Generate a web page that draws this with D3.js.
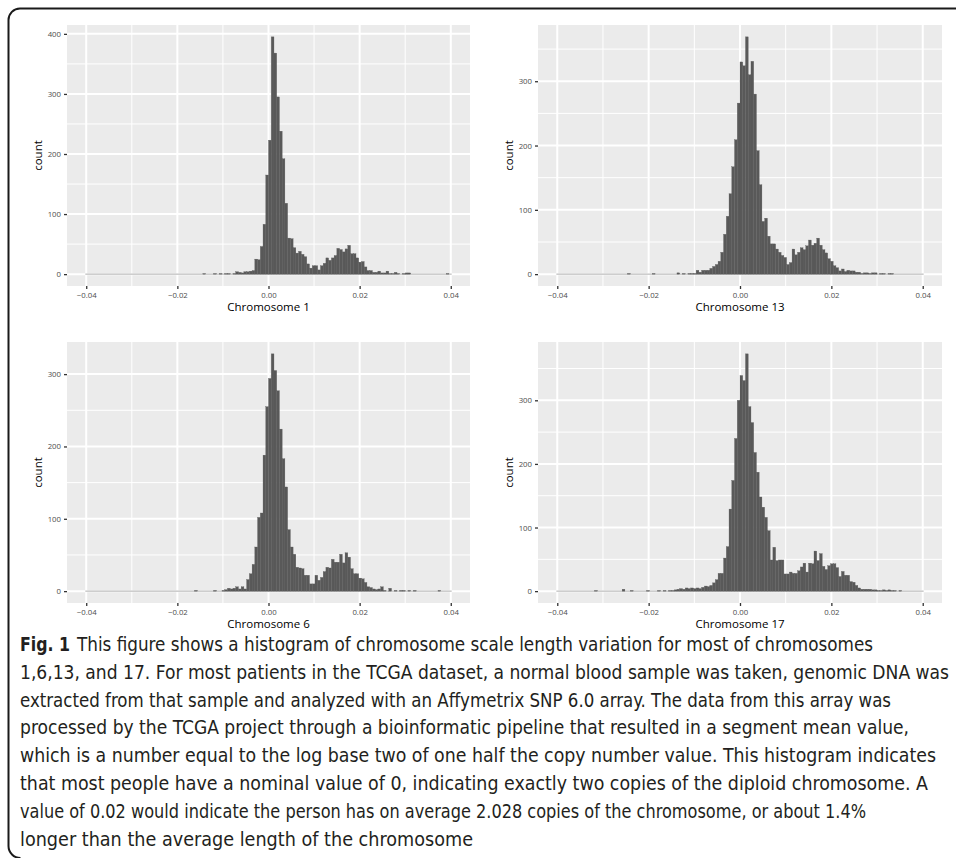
<!DOCTYPE html>
<html>
<head>
<meta charset="utf-8">
<script src="https://cdn.jsdelivr.net/npm/d3@7"></script>
<style>
  body { margin: 0; background: #fff; }
  svg { display: block; }
  .axis text { font-family: "Open Sans", sans-serif; font-size: 7.8px; fill: #4d4d4d; }
  .axis line { stroke: #333; }
  .axis-title { font-family: "Open Sans", sans-serif; font-size: 11.5px; fill: #000; }
  .caption { font-family: "Liberation Sans Narrow", "DejaVu Sans Condensed", "Open Sans", sans-serif; font-size: 19px; fill: #231f20; }
</style>
</head>
<body>
<svg id="fig" width="956" height="858"></svg>
<script>
// histogram bins: edges at binStart + i * binWidth
const binStart = -0.0402;
const binWidth = 0.0006;

const chr1 = [
  0,0,0,0,0,0,0,0,0,0,
  0,0,0,0,0,0,0,0,0,0,
  0,0,0,0,0,0,0,0,0,0,
  0,0,0,0,0,0,0,0,0,0,
  0,0,0,1,0,0,0,1,0,1,
  0,1,1,0,1,4,3,2,4,4,
  5,6,25,24,46,83,165,223,395,368,
  295,238,192,118,60,59,44,35,38,33,
  29,17,10,14,14,7,14,18,27,23,
  27,31,43,41,37,42,48,34,34,27,
  20,21,12,6,6,3,3,5,2,2,
  5,1,1,3,1,0,1,2,2,0,
  0,0,0,0,0,0,0,0,0,0,
  0,0,1,0
];

const chr13 = [
  0,0,0,0,0,0,0,0,0,0,
  0,0,0,0,0,0,0,0,0,0,
  0,0,0,0,0,0,1,0,0,0,
  0,0,0,0,0,1,0,0,0,0,
  0,0,0,0,2,0,1,0,1,1,
  1,6,3,6,6,6,9,12,15,20,
  34,62,90,125,167,209,266,330,324,369,
  310,331,280,192,139,82,87,59,47,47,
  39,34,29,26,15,18,39,30,34,41,
  38,44,53,45,48,56,45,38,33,24,
  20,13,10,5,8,4,6,5,5,3,
  3,1,2,2,1,2,2,0,1,1,
  0,1,1,0,0,0,0,0,0,0,
  0,0,0,0
];

const chr6 = [
  0,0,0,0,0,0,0,0,0,0,
  0,0,0,0,0,0,0,0,0,0,
  0,0,0,0,0,0,0,0,0,0,
  0,0,0,0,0,0,0,0,0,0,
  1,0,0,0,0,0,0,1,0,0,
  1,2,4,3,4,6,3,6,3,16,
  24,37,61,102,108,188,255,294,328,305,
  277,224,183,144,85,61,51,33,32,31,
  22,22,10,10,22,15,19,27,33,32,
  44,40,40,51,39,53,47,31,24,24,
  18,17,12,6,5,3,2,3,6,1,
  0,4,0,1,0,1,1,0,1,0,
  1,0,0,0,0,0,0,0,0,1,
  0,0,0,0
];

const chr17 = [
  0,0,0,0,0,0,0,0,0,0,
  0,0,0,0,1,0,0,0,0,0,
  0,0,0,0,3,0,0,1,0,0,
  0,0,0,1,0,0,0,1,0,1,
  0,1,1,2,3,4,3,5,4,5,
  4,5,4,6,8,7,9,13,18,28,
  28,52,70,129,174,240,300,339,331,373,
  290,265,218,187,148,132,116,95,49,69,
  48,49,49,27,27,30,28,28,32,38,
  44,30,44,43,63,48,59,39,34,40,
  43,43,37,23,31,25,25,15,14,9,
  5,3,3,3,3,2,2,1,1,2,
  1,2,1,1,0,1,0,0,0,0,
  0,0,0,0
];

const xTicks = [-0.04, -0.02, 0, 0.02, 0.04];
const xMinor = [-0.03, -0.01, 0.01, 0.03];
const yTicks = [0, 100, 200, 300, 400];
const yMinor = [50, 150, 250, 350];

const panelTitles = ['Chromosome 1', 'Chromosome 13', 'Chromosome 6', 'Chromosome 17'];
const panelCounts = [chr1, chr13, chr6, chr17];

const captionLines = [
  'This figure shows a histogram of chromosome scale length variation for most of chromosomes',
  '1,6,13, and 17. For most patients in the TCGA dataset, a normal blood sample was taken, genomic DNA was',
  'extracted from that sample and analyzed with an Affymetrix SNP 6.0 array. The data from this array was',
  'processed by the TCGA project through a bioinformatic pipeline that resulted in a segment mean value,',
  'which is a number equal to the log base two of one half the copy number value. This histogram indicates',
  'that most people have a nominal value of 0, indicating exactly two copies of the diploid chromosome. A',
  'value of 0.02 would indicate the person has on average 2.028 copies of the chromosome, or about 1.4%',
  'longer than the average length of the chromosome'
];
const captionEnds = [873, 949, 891, 909, 936, 928, 866, 473];

const svg = d3.select('#fig');

// layout of the four panels (plot background boxes)
const boxes = [
  {x0: 67, x1: 470, y0: 25, y1: 286},
  {x0: 538, x1: 942, y0: 25, y1: 286},
  {x0: 67, x1: 470, y0: 342, y1: 603},
  {x0: 538, x1: 942, y0: 342, y1: 603}
];

const fmt = d3.format('.2f');

panelCounts.forEach((counts, pi) => {
  const b = boxes[pi];
  const g = svg.append('g');

  const lo = binStart;
  const hi = binStart + binWidth * counts.length;
  const pad = (hi - lo) * 0.05;
  const x = d3.scaleLinear().domain([lo - pad, hi + pad]).range([b.x0, b.x1]);
  const ymax = d3.max(counts);
  const y = d3.scaleLinear().domain([-0.05 * ymax, 1.05 * ymax]).range([b.y1, b.y0]);
  const [yLo, yHi] = y.domain();

  g.append('rect')
    .attr('x', b.x0).attr('y', b.y0)
    .attr('width', b.x1 - b.x0).attr('height', b.y1 - b.y0)
    .attr('fill', '#ebebeb');

  // minor grid
  g.selectAll('.vminor').data(xMinor).enter().append('line')
    .attr('x1', d => x(d)).attr('x2', d => x(d))
    .attr('y1', b.y0).attr('y2', b.y1)
    .attr('stroke', '#fff').attr('stroke-width', 1);
  g.selectAll('.hminor').data(yMinor.filter(d => d > yLo && d < yHi)).enter().append('line')
    .attr('x1', b.x0).attr('x2', b.x1)
    .attr('y1', d => y(d)).attr('y2', d => y(d))
    .attr('stroke', '#fff').attr('stroke-width', 1);

  // major grid
  g.selectAll('.vmajor').data(xTicks).enter().append('line')
    .attr('x1', d => x(d)).attr('x2', d => x(d))
    .attr('y1', b.y0).attr('y2', b.y1)
    .attr('stroke', '#fff').attr('stroke-width', 2);
  const yt = yTicks.filter(d => d > yLo && d < yHi);
  g.selectAll('.hmajor').data(yt).enter().append('line')
    .attr('x1', b.x0).attr('x2', b.x1)
    .attr('y1', d => y(d)).attr('y2', d => y(d))
    .attr('stroke', '#fff').attr('stroke-width', 2);

  // zero-height bins show as a thin line
  g.append('line')
    .attr('x1', x(lo)).attr('x2', x(hi))
    .attr('y1', y(0)).attr('y2', y(0))
    .attr('stroke', '#9a9a9a').attr('stroke-width', 0.8);

  const bins = counts.map((c, i) => ({a: binStart + i * binWidth, b: binStart + (i + 1) * binWidth, c: c}));
  g.selectAll('.bar').data(bins.filter(d => d.c > 0)).enter().append('rect')
    .attr('x', d => x(d.a))
    .attr('width', d => x(d.b) - x(d.a))
    .attr('y', d => y(d.c))
    .attr('height', d => y(0) - y(d.c))
    .attr('fill', '#595959')
    .attr('stroke', '#595959').attr('stroke-width', 0.3);

  // axes
  const xa = g.append('g').attr('class', 'axis')
    .attr('transform', `translate(0,${b.y1})`)
    .call(d3.axisBottom(x).tickValues(xTicks).tickSize(3).tickPadding(3).tickFormat(fmt));
  xa.select('.domain').remove();
  xa.selectAll('line').attr('stroke', '#333').attr('stroke-width', 1.3);

  const ya = g.append('g').attr('class', 'axis')
    .attr('transform', `translate(${b.x0},0)`)
    .call(d3.axisLeft(y).tickValues(yt).tickSize(3).tickPadding(3).tickFormat(d3.format('d')));
  ya.select('.domain').remove();
  ya.selectAll('line').attr('stroke', '#333').attr('stroke-width', 1.3);

  g.append('text').attr('class', 'axis-title')
    .attr('x', (b.x0 + b.x1) / 2).attr('y', b.y1 + 24.5)
    .attr('text-anchor', 'middle')
    .text(panelTitles[pi]);

  g.append('text').attr('class', 'axis-title')
    .attr('transform', `translate(${b.x0 - 25.5},${(b.y0 + b.y1) / 2}) rotate(-90)`)
    .attr('text-anchor', 'middle')
    .text('count');
});

// caption
const cap = svg.append('g');
cap.append('text').attr('class', 'caption')
  .attr('x', 20).attr('y', 651)
  .attr('font-weight', 'bold')
  .attr('textLength', 50).attr('lengthAdjust', 'spacingAndGlyphs')
  .text('Fig. 1');
captionLines.forEach((line, i) => {
  const x0 = i === 0 ? 77 : 20;
  cap.append('text').attr('class', 'caption')
    .attr('x', x0).attr('y', 651 + i * 27.8)
    .attr('textLength', captionEnds[i] - x0).attr('lengthAdjust', 'spacingAndGlyphs')
    .text(line);
});

// frame
svg.append('path')
  .attr('d', 'M 960 8.5 H 20 A 11.5 11.5 0 0 0 8.5 20 V 846 A 12 12 0 0 0 20.5 858')
  .attr('fill', 'none')
  .attr('stroke', '#1a1a1a')
  .attr('stroke-width', 2);
</script>
</body>
</html>
